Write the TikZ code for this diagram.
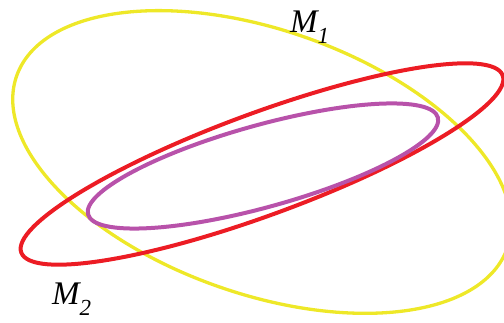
\documentclass[tikz,border=0pt]{standalone}
\usepackage{fontspec}
\setmainfont{Liberation Serif}
\definecolor{ellyellow}{RGB}{238,232,40}
\definecolor{ellred}{RGB}{236,28,36}
\definecolor{ellpurple}{RGB}{184,82,170}
\newcommand{\sublbl}[1]{\raisebox{-11pt}{\fontsize{23}{24}\selectfont\textit{#1}}}
\begin{document}
\begin{tikzpicture}[x=1pt,y=-1pt,
  lbl/.style={anchor=base west,inner sep=0pt,font=\fontsize{33}{35}\selectfont}]
\useasboundingbox (0,0) rectangle (504,323);
\coordinate (cy) at (262,162);
\coordinate (cr) at (262,164);
\coordinate (cp) at (263,166);
\draw[ellyellow,line width=3.3pt,rotate around={-19.3:(cy)}] (cy) ellipse [x radius=260pt,y radius=132pt];
\draw[ellred,line width=4pt,rotate around={20.2:(cr)}] (cr) ellipse [x radius=256.5pt,y radius=51pt];
\draw[ellpurple,line width=4pt,rotate around={15.5:(cp)}] (cp) ellipse [x radius=181.5pt,y radius=41pt];
\node[lbl] (m1) at (290,33) {\textit{M}\kern-1.5pt\sublbl{1}};
\node[lbl] (m2) at (52,305) {\textit{M}\kern-1.5pt\sublbl{2}};
\end{tikzpicture}
\end{document}
